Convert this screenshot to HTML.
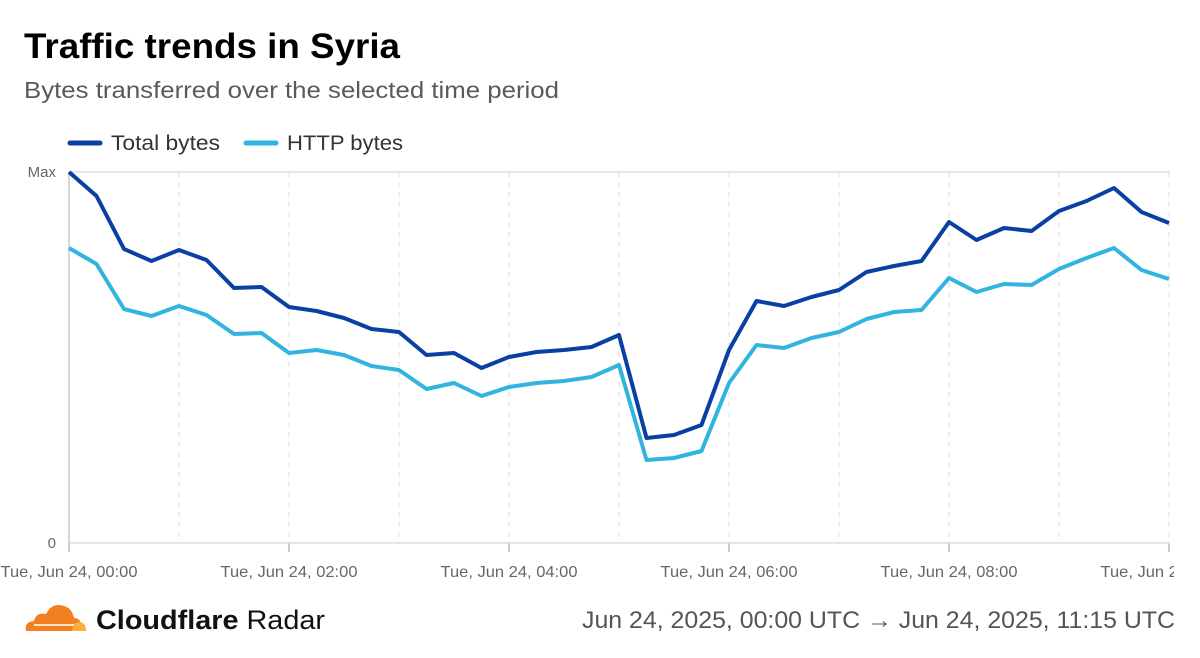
<!DOCTYPE html>
<html><head><meta charset="utf-8"><style>
html,body{margin:0;padding:0;background:#fff;width:1200px;height:658px;overflow:hidden}
text{font-family:"Liberation Sans",sans-serif}
</style></head><body>
<svg id="s" width="1200" height="658" xmlns="http://www.w3.org/2000/svg">
<text x="24" y="58" font-size="35" font-weight="bold" fill="#000" textLength="376" lengthAdjust="spacingAndGlyphs">Traffic trends in Syria</text>
<text x="24" y="98" font-size="23" fill="#5a5a5a" textLength="535" lengthAdjust="spacingAndGlyphs">Bytes transferred over the selected time period</text>
<line x1="70" y1="143" x2="100" y2="143" stroke="#0a3fa3" stroke-width="5" stroke-linecap="round"/>
<text x="111" y="150" font-size="21" fill="#333" textLength="109" lengthAdjust="spacingAndGlyphs">Total bytes</text>
<line x1="246" y1="143" x2="276" y2="143" stroke="#31b4de" stroke-width="5" stroke-linecap="round"/>
<text x="287" y="150" font-size="21" fill="#333" textLength="116" lengthAdjust="spacingAndGlyphs">HTTP bytes</text>
<text x="56" y="177" font-size="15" fill="#666" text-anchor="end">Max</text>
<text x="56" y="548" font-size="15" fill="#666" text-anchor="end">0</text>
<line x1="69" y1="172" x2="1170" y2="172" stroke="#ddd" stroke-width="1.5"/>
<g id="grid"></g>
<line x1="69" y1="543" x2="1170" y2="543" stroke="#ddd" stroke-width="1.5"/>
<line x1="69" y1="172" x2="69" y2="552" stroke="#ccc" stroke-width="1.5"/>
<polyline id="h" fill="none" stroke="#31b4de" stroke-width="4" stroke-linejoin="round"/>
<polyline id="t" fill="none" stroke="#0a3fa3" stroke-width="4" stroke-linejoin="round"/>
<g id="lab" font-size="16" fill="#666" text-anchor="middle"></g>
<rect x="1174" y="555" width="30" height="30" fill="#fff"/>
<g transform="translate(22,600)">
<path d="M4 31 Q2 22 12 21 Q14 12 24 14 Q30 2 42 6 Q50 8 52 18 Q58 18 59 24 L58 31 Z" fill="#f38020"/>
<path d="M50 31 Q51 22 57 22 Q64 22 64 31 Z" fill="#faae40"/>
<path d="M12 25 L52 25" stroke="#fff" stroke-width="1.5"/>
</g>
<text x="96" y="629" font-size="27" font-weight="bold" fill="#111" textLength="229" lengthAdjust="spacingAndGlyphs">Cloudflare <tspan font-weight="normal">Radar</tspan></text>
<text x="1175" y="628" font-size="24" fill="#555" text-anchor="end" textLength="593" lengthAdjust="spacingAndGlyphs">Jun 24, 2025, 00:00 UTC → Jun 24, 2025, 11:15 UTC</text>
</svg>
<script>
var T=[172,196,249,261,250,260,288,287,307,311,318,329,332,355,353,368,357,352,350,347,335,438,435,425,350,301,306,297,290,272,266,261,222,240,228,231,211,201,188,212,223];
var H=[248,264,309,316,306,315,334,333,353,350,355,366,370,389,383,396,387,383,381,377,365,460,458,451,383,345,348,338,332,319,312,310,278,292,284,285,269,258,248,270,279];
function p(a){return a.map(function(y,i){return (69+27.5*i)+","+y}).join(" ")}
document.getElementById("t").setAttribute("points",p(T));
document.getElementById("h").setAttribute("points",p(H));
var g="",l="",ns=["00:00","02:00","04:00","06:00","08:00","10:00"];
for(var k=1;k<=10;k++){var x=69+110*k;g+='<line x1="'+x+'" y1="172" x2="'+x+'" y2="543" stroke="#ddd" stroke-dasharray="5,5"/>';}
for(var k=0;k<6;k++){var x=69+220*k;g+='<line x1="'+x+'" y1="543" x2="'+x+'" y2="552" stroke="#bbb" stroke-width="1.5"/>';l+='<text x="'+x+'" y="577" textLength="137" lengthAdjust="spacingAndGlyphs">Tue, Jun 24, '+ns[k]+'</text>';}
document.getElementById("grid").innerHTML=g;
document.getElementById("lab").innerHTML=l;
</script>
</body></html>
